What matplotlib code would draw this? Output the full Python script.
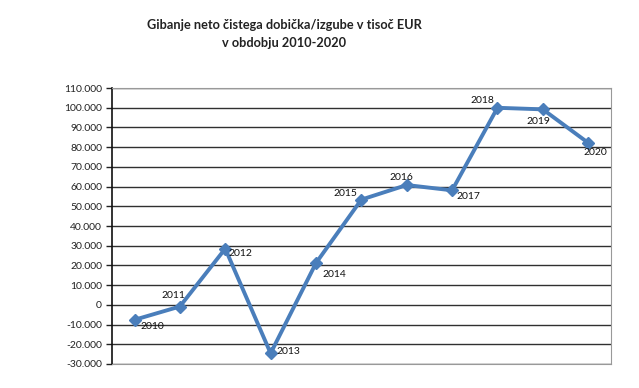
import matplotlib.pyplot as plt
from matplotlib.ticker import FuncFormatter

plt.rcParams['font.family'] = ['Lato', 'DejaVu Sans']

years = ['2010', '2011', '2012', '2013', '2014', '2015', '2016', '2017', '2018', '2019', '2020']
values = [-7600, -850, 28500, -24600, 21200, 53400, 60800, 58100, 100000, 99200, 82200]
# label offsets (pixels) next to each point
offsets = [(18, -7), (-6, 11), (15, -5), (18, 2), (18, -11), (-16, 6),
           (-5, 8), (16, -6), (-15, 7), (-4, -12), (7, -10)]

fig = plt.figure(figsize=(6.39, 3.88), dpi=100)
ax = fig.add_axes([0.175, 0.062, 0.781, 0.711])

x = list(range(len(years)))
ax.plot(x, values, color='#4a7ebb', lw=2.8, marker='D', markersize=6, zorder=3)

for i, (yr, v) in enumerate(zip(years, values)):
    ax.annotate(yr, (i, v), xytext=offsets[i], textcoords='offset pixels',
                ha='center', va='center', fontsize=7.5, color='#111111')

ax.set_xlim(-0.5, len(years) - 0.5)
ax.set_ylim(-30000, 110000)
ax.set_yticks(range(-30000, 110001, 10000))
ax.yaxis.set_major_formatter(FuncFormatter(lambda v, p: f'{int(v):,}'.replace(',', '.')))
ax.set_xticks([])
ax.tick_params(axis='y', labelsize=7.5, length=4, width=1, colors='#222222', pad=3)
ax.yaxis.grid(True, color='#303030', lw=1)
ax.set_axisbelow(True)

for s in ['top', 'right', 'bottom']:
    ax.spines[s].set_color('#999999')
ax.spines['left'].set_color('#111111')
ax.spines['left'].set_linewidth(1.2)

fig.text(0.445, 0.912, 'Gibanje neto čistega dobička/izgube v tisoč EUR\nv obdobju 2010-2020',
         ha='center', va='center', fontsize=9.2, fontweight='bold', color='#222222',
         linespacing=1.6)

fig.savefig('out.png', dpi=100)
